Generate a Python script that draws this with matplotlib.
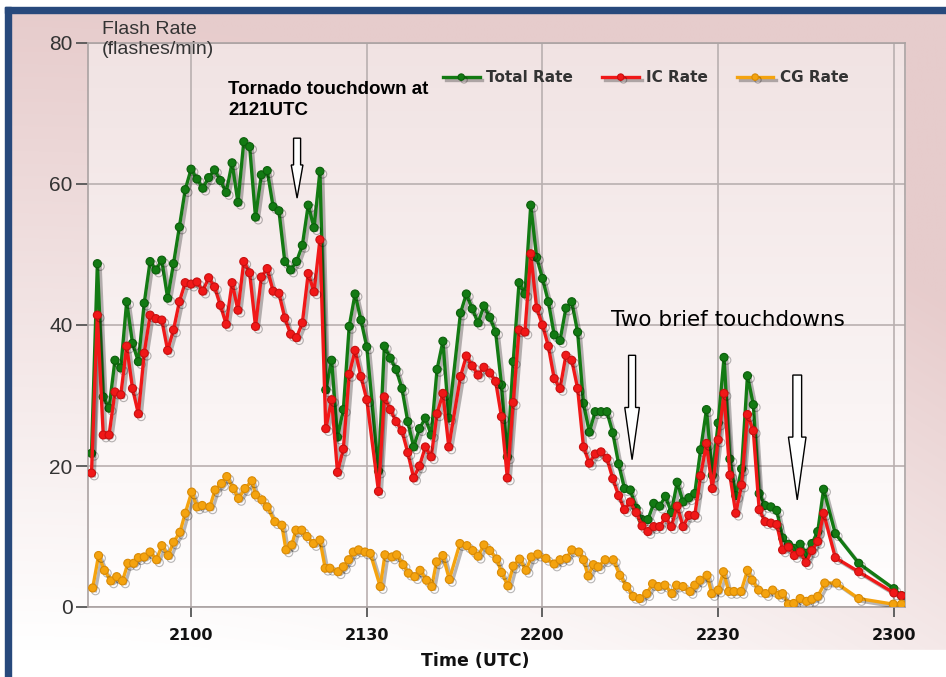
import numpy as np
import matplotlib
matplotlib.use("Agg")
import matplotlib.pyplot as plt
import matplotlib.patheffects as pe
from matplotlib.patches import Rectangle, FancyArrow

# ---------------- data (minutes after 21:00 UTC) ----------------
times = list(range(-17, 31)) + list(range(32, 45)) + list(range(46, 109)) + [110, 114, 120, 121.3]

total_rate = [21.8, 48.7, 29.8, 28.2, 35.0, 33.9, 43.3, 37.4, 34.8, 43.1, 49.0, 47.8, 49.2, 43.8, 48.7, 53.9, 59.2,
              62.1, 60.7, 59.4, 60.9, 62.0, 60.5, 58.8, 63.0, 57.4, 66.0, 65.3, 55.3, 61.3, 61.9, 56.8, 56.2,
              49.0, 47.8, 49.0, 51.3, 57.0, 53.8, 61.8, 30.8, 35.0, 24.1, 28.0, 39.8, 44.4, 40.7, 36.9,
              19.3, 37.0, 35.3, 33.7, 31.0, 26.3, 22.7, 25.3, 26.8, 24.4, 33.7, 37.7, 26.8,
              41.7, 44.4, 42.3, 40.3, 42.7, 41.1, 39.0, 31.5, 21.3, 34.8, 46.0, 44.4, 57.0, 49.6, 46.6, 43.3,
              38.6, 37.8, 42.4, 43.3, 39.0, 28.9, 24.8, 27.7, 27.7, 27.7, 24.7, 20.3, 16.8, 16.6, 14.0, 12.4,
              12.4, 14.7, 14.3, 15.7, 13.4, 17.7, 14.9, 15.5, 16.1, 22.3, 28.0, 18.7, 26.1, 35.4, 21.0, 15.8,
              19.6, 32.8, 28.7, 16.1, 14.4, 14.2, 13.7, 9.8, 8.9, 8.3, 8.9, 7.6, 9.0, 10.7, 16.7,
              10.4, 6.2, 2.6, 1.6]

ic_rate = [19.0, 41.4, 24.4, 24.4, 30.5, 30.1, 37.0, 31.0, 27.4, 36.0, 41.4, 40.9, 40.7, 36.4, 39.3, 43.3, 46.0,
           45.8, 46.1, 44.8, 46.7, 45.4, 42.8, 40.1, 46.0, 42.1, 49.0, 47.4, 39.8, 46.8, 48.0, 44.8, 44.5,
           41.0, 38.7, 38.2, 40.3, 47.3, 44.7, 52.1, 25.3, 29.4, 19.1, 22.4, 33.0, 36.4, 32.7, 29.4,
           16.4, 29.8, 28.0, 26.3, 25.0, 21.9, 18.3, 20.0, 22.7, 21.3, 27.4, 30.3, 22.7,
           32.7, 35.6, 34.2, 32.9, 34.0, 33.2, 32.0, 27.0, 18.3, 29.0, 39.3, 39.0, 50.1, 42.4, 40.0, 37.0,
           32.4, 31.0, 35.7, 35.0, 31.0, 22.7, 20.4, 21.7, 22.0, 21.1, 18.2, 15.8, 13.8, 14.9, 13.4, 11.5,
           10.7, 11.4, 11.4, 12.7, 11.4, 14.3, 11.4, 13.0, 13.0, 18.6, 23.2, 16.8, 23.7, 30.3, 18.7, 13.3,
           17.3, 27.3, 25.0, 13.8, 12.1, 11.9, 11.7, 8.1, 8.5, 7.3, 7.8, 6.3, 8.0, 9.3, 13.3,
           7.0, 5.0, 2.0, 1.6]

cg_times = [-16.8, -15.8, -14.8, -13.7, -12.7, -11.7, -10.8, -9.8, -9.0, -8.0, -7.0, -5.9, -5.0, -3.9, -3.0,
            -1.9, -1.0, 0.1, 1.0, 1.9, 3.2, 4.1, 5.2, 6.1, 7.2, 8.1, 9.2, 10.4, 11.0, 12.1, 13.0, 14.3,
            15.5, 16.2, 17.2, 17.9, 18.9, 19.8, 20.9, 22.0, 22.9, 23.7, 25.1, 26.0, 26.9, 27.7, 28.6, 29.7,
            30.6, 32.3, 33.1, 34.3, 35.1, 36.2, 37.1, 38.2, 39.1, 40.2, 41.1, 41.9, 43.0, 44.1, 45.9, 47.1,
            48.1, 49.0, 50.0, 51.0, 52.2, 53.0, 54.1, 55.0, 56.1, 57.2, 58.1, 59.2, 60.6, 62.0, 63.0, 64.1,
            65.0, 66.2, 67.0, 67.8, 68.7, 69.5, 70.7, 72.1, 73.2, 74.4, 75.5, 76.6, 77.8, 78.8, 79.8, 80.9,
            82.1, 82.9, 84.0, 85.2, 86.0, 86.9, 88.1, 88.9, 90.0, 90.9, 91.8, 92.7, 93.9, 95.0, 95.8, 96.9,
            98.1, 99.3, 100.4, 101.0, 102.0, 102.9, 104.0, 105.1, 106.0, 107.0, 108.2, 110.2, 114.0, 119.9, 121.3]

cg_rate = [2.7, 7.3, 5.2, 3.7, 4.3, 3.7, 6.2, 6.2, 7.0, 7.1, 7.8, 6.7, 8.7, 7.3, 9.2,
           10.6, 13.3, 16.3, 14.2, 14.4, 14.2, 16.6, 17.5, 18.5, 16.8, 15.4, 16.8, 17.9, 15.9, 15.2, 14.2, 12.1,
           11.6, 8.1, 8.8, 10.9, 10.9, 10.0, 9.0, 9.5, 5.5, 5.5, 5.0, 5.7, 6.7, 7.8, 8.1, 7.8,
           7.6, 2.9, 7.4, 7.1, 7.4, 6.0, 4.8, 4.3, 5.2, 3.8, 2.9, 6.4, 7.3, 3.9, 9.0, 8.7,
           8.0, 7.2, 8.8, 8.0, 6.8, 4.9, 3.0, 5.8, 6.8, 5.2, 7.1, 7.5, 6.9, 6.1, 6.7, 6.9,
           8.1, 7.8, 6.7, 4.4, 6.0, 5.7, 6.7, 6.7, 4.5, 2.9, 1.5, 1.2, 1.9, 3.3, 2.9, 3.1,
           1.9, 3.1, 2.9, 2.2, 3.1, 3.8, 4.5, 1.9, 2.4, 5.0, 2.2, 2.2, 2.2, 5.2, 3.8, 2.4,
           1.9, 2.4, 1.7, 1.9, 0.4, 0.5, 1.2, 0.8, 1.1, 1.5, 3.4, 3.4, 1.2, 0.4, 0.4]

xtick_pos = [0, 30, 60, 90, 120]
xtick_labels = ["2100", "2130", "2200", "2230", "2300"]
ytick_pos = [0, 20, 40, 60, 80]

series_names = ["Total Rate", "IC Rate", "CG Rate"]
series_colors = ["#137a13", "#f01818", "#f4a30f"]
edge_colors = ["#0b5e0b", "#c80f0f", "#d98a05"]

# ---------------- figure ----------------
W, H = 946, 677
fig = plt.figure(figsize=(W / 100, H / 100), dpi=100)
fig.patch.set_facecolor("white")

# background panel with pink gradient
bg = fig.add_axes([0, 0, 1, 1], zorder=-5)
bg.set_xlim(0, W)
bg.set_ylim(H, 0)
bg.axis("off")
px0, px1, py0, py1 = 11, W, 13, 650
xs = np.linspace(0, 1, 200)
ys = np.linspace(0, 1, 200)
XN, YN = np.meshgrid(xs, ys)
f = np.clip(1 - YN + 0.45 * XN ** 2, 0, 1)
pink = np.array([0.905, 0.80, 0.80])
white = np.array([1.0, 1.0, 1.0])
img = white[None, None, :] * (1 - f[..., None]) + pink[None, None, :] * f[..., None]
bg.imshow(img, extent=[px0, px1, py1, py0], aspect="auto", interpolation="bilinear")
bg.add_patch(Rectangle((px0, py1), px1 - px0, H - py1, color="white", zorder=1))
# blue frame
bg.add_patch(Rectangle((5, 7), W - 5, 6, color="#27497c", zorder=3))
bg.add_patch(Rectangle((5, 7), 6, H - 7, color="#27497c", zorder=3))

# main axes
left, right, top, bottom = 88, 905, 43, 607
ax = fig.add_axes([left / W, 1 - bottom / H, (right - left) / W, (bottom - top) / H])
ax.set_facecolor("none")
grad = np.linspace(0, 1, 100)[:, None]
c_top = np.array([0.945, 0.89, 0.89])
c_bot = np.array([1.0, 0.995, 0.995])
gimg = c_top[None, None, :] * (1 - grad[..., None]) + c_bot[None, None, :] * grad[..., None]
gimg = np.repeat(gimg, 2, axis=1)
ax.imshow(gimg, extent=[0, 1, 0, 1], transform=ax.transAxes, aspect="auto", zorder=-10)

ax.set_xlim(-17.6, 121.9)
ax.set_ylim(0, 80)

ax.grid(True, color="#b9b0b0", linewidth=1.2, zorder=0)
for sp in ax.spines.values():
    sp.set_color("#aaa2a2")
    sp.set_linewidth(1.2)

ax.set_xticks(xtick_pos)
ax.set_xticklabels(xtick_labels, fontfamily="DejaVu Sans", fontweight="bold", fontsize=11.5, color="#111111")
ax.set_yticks(ytick_pos)
ax.set_yticklabels([str(v) for v in ytick_pos], fontfamily="Liberation Sans", fontsize=15, color="#333333")
ax.tick_params(axis="y", length=9, width=1.3, color="#555555", pad=2)
ax.tick_params(axis="x", length=7, width=1.3, color="#555555", pad=8)

shadow = [pe.SimpleLineShadow(offset=(2, -2), shadow_color="#000000", alpha=0.28), pe.Normal()]

data_x = [times, times, cg_times]
data_y = [total_rate, ic_rate, cg_rate]
for name, xv, yv, c, ec in zip(series_names, data_x, data_y, series_colors, edge_colors):
    ax.plot(xv, yv, color=c, linewidth=2.4, marker="o", markersize=5.8,
            markerfacecolor=c, markeredgecolor=ec, markeredgewidth=0.8,
            label=name, zorder=3, path_effects=shadow)

leg = ax.legend(loc="center", bbox_to_anchor=(0.683, 0.938), ncol=3, frameon=False,
                prop={"family": "DejaVu Sans", "weight": "bold", "size": 11},
                handlelength=2.4, handletextpad=0.45, columnspacing=1.9, markerscale=0.8)
for t in leg.get_texts():
    t.set_color("#333333")

# annotations
ax.text(0.1714 - 0.0, 0, "", transform=ax.transAxes)
fig.text(228 / W, 1 - 100 / H, "Tornado touchdown at\n2121UTC", fontfamily="Liberation Sans",
         fontweight="bold", fontsize=13.5, color="black", va="center", ha="left", linespacing=1.25)
fig.text(611 / W, 1 - 320 / H, "Two brief touchdowns", fontfamily="DejaVu Sans",
         fontsize=15.5, color="black", va="center", ha="left")

arrows = [
    (18.1, 66.5, 58.0, 1.2, 2.0, 4.7),
    (75.3, 35.7, 20.9, 1.2, 2.5, 7.4),
    (103.5, 32.9, 15.2, 1.5, 3.0, 8.9),
]
for ax_x, y0, y1, w, hw, hl in arrows:
    ax.add_patch(FancyArrow(ax_x, y0, 0, y1 - y0, width=w, head_width=hw, head_length=hl,
                            length_includes_head=True, facecolor="white", edgecolor="black",
                            linewidth=1.0, zorder=5))

# axis titles
fig.text(102 / W, 1 - 30 / H, "Flash Rate", fontfamily="Liberation Sans", fontsize=14,
         color="#333333", va="center", ha="left")
fig.text(102 / W, 1 - 50 / H, "(flashes/min)", fontfamily="Liberation Sans", fontsize=14,
         color="#333333", va="center", ha="left")
fig.text(475 / W, 1 - 661 / H, "Time (UTC)", fontfamily="DejaVu Sans", fontweight="bold",
         fontsize=12.5, color="#111111", va="center", ha="center")

fig.savefig("out.png", dpi=100)
